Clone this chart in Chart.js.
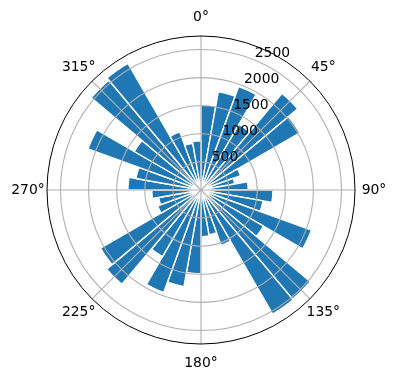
<!DOCTYPE html>
<html>
<head>
	<meta charset="utf-8">
	<script src="https://cdn.jsdelivr.net/npm/chart.js@4.4.0/dist/chart.umd.min.js"></script>
	<style>
		body { margin: 0; background: #fff; }
	</style>
</head>
<body>
	<canvas id="myChart" width="396" height="380"></canvas>
	<script>
		// bins of 10 degrees, clockwise from north
		var binStarts = [0, 10, 20, 30, 40, 50, 60, 70, 80, 90, 100, 110, 120, 130, 140, 150, 160, 170,
			180, 190, 200, 210, 220, 230, 240, 250, 260, 270, 280, 290, 300, 310, 320, 330, 340, 350];
		var counts = [1515, 1775, 1960, 1350, 2245, 2030, 750, 610, 840,
			1280, 1120, 2090, 1285, 2535, 2550, 1050, 810, 830,
			1490, 1745, 1940, 1370, 2190, 2065, 820, 765, 875,
			1300, 1175, 2140, 1370, 2550, 2600, 1100, 845, 875];
		var rTicks = [500, 1000, 1500, 2000, 2500];
		var rTickLabels = ['500', '1000', '1500', '2000', '2500'];
		var thetaTicks = [0, 45, 90, 135, 180, 225, 270, 315];
		var thetaLabels = ['0°', '45°', '90°', '135°', '180°', '225°', '270°', '315°'];
		var rMax = 2740;

		var FONT = '13.9px "DejaVu Sans"';

		// grid goes on top of the bars, like matplotlib
		var polarGrid = {
			id: 'polarGrid',
			afterDatasetsDraw: function(chart) {
				var ctx = chart.ctx;
				var s = chart.scales.r;
				var cx = s.xCenter, cy = s.yCenter, R = s.drawingArea;
				ctx.save();
				ctx.strokeStyle = '#b0b0b0';
				ctx.lineWidth = 1.1;
				rTicks.forEach(function(v) {
					ctx.beginPath();
					ctx.arc(cx, cy, s.getDistanceFromCenterForValue(v), 0, Math.PI * 2);
					ctx.stroke();
				});
				thetaTicks.forEach(function(a) {
					var t = a * Math.PI / 180 - Math.PI / 2;
					ctx.beginPath();
					ctx.moveTo(cx, cy);
					ctx.lineTo(cx + Math.cos(t) * R, cy + Math.sin(t) * R);
					ctx.stroke();
				});
				ctx.strokeStyle = '#000';
				ctx.lineWidth = 1;
				ctx.beginPath();
				ctx.arc(cx, cy, R, 0, Math.PI * 2);
				ctx.stroke();

				ctx.fillStyle = '#000';
				ctx.font = FONT;
				ctx.textAlign = 'center';
				ctx.textBaseline = 'middle';
				thetaTicks.forEach(function(a, i) {
					var t = a * Math.PI / 180 - Math.PI / 2;
					ctx.fillText(thetaLabels[i], cx + Math.cos(t) * (R + 19), cy + Math.sin(t) * (R + 19));
				});

				// radial labels along 22.5 deg
				ctx.textAlign = 'left';
				ctx.textBaseline = 'bottom';
				var t2 = 22.5 * Math.PI / 180 - Math.PI / 2;
				rTicks.forEach(function(v, i) {
					var d = s.getDistanceFromCenterForValue(v);
					ctx.fillText(rTickLabels[i], cx + Math.cos(t2) * d, cy + Math.sin(t2) * d);
				});
				ctx.restore();
			}
		};

		var ctx = document.getElementById('myChart').getContext('2d');
		var myChart = new Chart(ctx, {
			type: 'polarArea',
			data: {
				labels: binStarts.map(function(b) { return b + '°'; }),
				datasets: [{
					data: counts,
					backgroundColor: '#1f77b4',
					borderColor: '#ffffff',
					borderWidth: 1.4
				}]
			},
			options: {
				responsive: false,
				animation: false,
				layout: {
					padding: { left: 47, right: 40, top: 36, bottom: 35 }
				},
				scales: {
					r: {
						min: 0,
						max: rMax,
						startAngle: 0,
						ticks: { display: false, stepSize: 500 },
						grid: { display: false },
						angleLines: { display: false },
						pointLabels: { display: false }
					}
				},
				plugins: {
					legend: { display: false },
					tooltip: { enabled: false }
				}
			},
			plugins: [polarGrid]
		});
	</script>
</body>
</html>
